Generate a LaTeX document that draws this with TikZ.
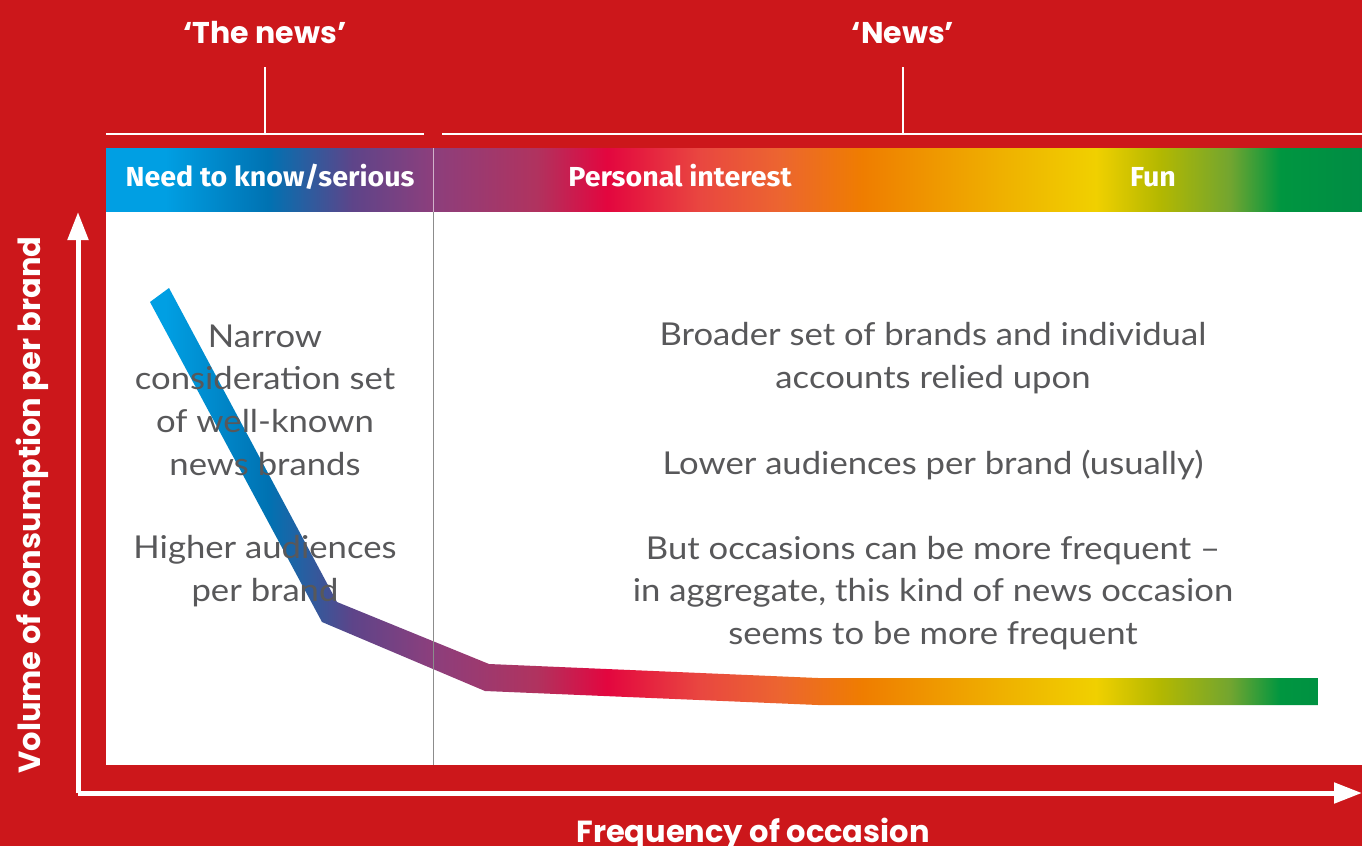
\documentclass[tikz,border=0pt]{standalone}
\usepackage{fontspec}
\setmainfont{Lato}[FakeStretch=1.1]
\newfontfamily\headfont{Fira Sans}[FakeStretch=1.04]
\newfontfamily\axisfont{Poppins}
\usetikzlibrary{arrows.meta}

\definecolor{newsred}{HTML}{CC171B}
\definecolor{bodygrey}{HTML}{58585A}
\definecolor{rulegrey}{HTML}{8C8C8C}
\definecolor{gA}{HTML}{009FE3}
\definecolor{gB}{HTML}{0072B2}
\definecolor{gC}{HTML}{5E4489}
\definecolor{gD}{HTML}{8B3F7D}
\definecolor{gE}{HTML}{B0335F}
\definecolor{gF}{HTML}{E3063F}
\definecolor{gG}{HTML}{E94740}
\definecolor{gH}{HTML}{EC6530}
\definecolor{gI}{HTML}{EF7D00}
\definecolor{gJ}{HTML}{EFB000}
\definecolor{gK}{HTML}{F0D000}
\definecolor{gL}{HTML}{B4B800}
\definecolor{gM}{HTML}{72A530}
\definecolor{gN}{HTML}{009640}
\definecolor{gO}{HTML}{008C44}

\pgfdeclarehorizontalshading{newsgrad}{100bp}{color(0bp)=(gA); color(25bp)=(gA);
  color(27.35bp)=(gA); color(31.45bp)=(gB); color(34.83bp)=(gC); color(37.9bp)=(gD);
  color(42.12bp)=(gE); color(44.94bp)=(gF); color(48.65bp)=(gG); color(51.83bp)=(gH);
  color(55.1bp)=(gI); color(60.59bp)=(gJ); color(64.41bp)=(gK); color(66.92bp)=(gL);
  color(69.75bp)=(gM); color(71.74bp)=(gN); color(75bp)=(gO); color(100bp)=(gO)}

\begin{document}
\begin{tikzpicture}[x=1pt, y=-1pt,
    bracket/.style = {draw=white, line width=2.5pt},
    axis/.style = {draw=white, line width=5pt, -{Triangle[length=28pt, width=20pt]}},
    head/.style = {text=white, font=\axisfont\bfseries\fontsize{30}{34}\selectfont, anchor=base},
    band/.style = {text=white, font=\headfont\bfseries\fontsize{27.5}{30}\selectfont, anchor=base},
    body/.style = {text=bodygrey, align=center, font=\fontsize{31.5}{42.7}\selectfont},
    axislabel/.style = {text=white, font=\axisfont\bfseries\fontsize{30.5}{34}\selectfont}]

    \useasboundingbox (0,0) rectangle (1362,846);
    \fill[newsred] (0,0) rectangle (1362,846);

    % band and panel
    \shade[shading=newsgrad] (106,148) rectangle (1362,212);
    \fill[white] (106,212) rectangle (1362,765);

    % consumption curve
    \begin{scope}
        \clip (150,302) -- (169,288) -- (337,602) -- (489,664) -- (818,678) -- (1318,678)
            -- (1318,705) -- (818,705) -- (485,691) -- (322,622) -- cycle;
        \shade[shading=newsgrad] (106,280) rectangle (1362,710);
    \end{scope}

    % divider
    \draw[white, opacity=0.6, line width=1pt] (433,148) -- (433,212);
    \draw[rulegrey, line width=1pt] (433,212) -- (433,765);

    % brackets
    \node[head] (thenews) at (265,43) {‘The news’};
    \node[head] (news) at (903,43) {‘News’};
    \coordinate (leftA) at (106,134);
    \coordinate (leftB) at (424,134);
    \coordinate (leftmid) at (265,134);
    \coordinate (rightA) at (442,134);
    \coordinate (rightB) at (1362,134);
    \coordinate (rightmid) at (903,134);
    \draw[bracket] (leftA) -- (leftB);
    \draw[bracket] (rightA) -- (rightB);
    \draw[bracket, line width=2pt] (leftmid) -- ++(0,-67);
    \draw[bracket, line width=2pt] (rightmid) -- ++(0,-67);

    % band labels
    \node[band] (serious) at (270,186) {Need to know/serious};
    \node[band] (personal) at (680,186) {Personal interest};
    \node[band] (fun) at (1153,186) {Fun};

    % texts
    \node[body] (narrow) at (265,400) {Narrow\\consideration set\\of well-known\\news brands};
    \node[body] (higher) at (265,571) {Higher audiences\\per brand};
    \node[body] (broader) at (933,358) {Broader set of brands and individual\\accounts relied upon};
    \node[body] (lower) at (933,465) {Lower audiences per brand (usually)};
    \node[body] (occasions) at (933,593) {But occasions can be more frequent –\\in aggregate, this kind of news occasion\\seems to be more frequent};

    % axes
    \coordinate (origin) at (78,793);
    \coordinate (ytop) at (78,212);
    \coordinate (xend) at (1362,793);
    \draw[axis] (origin) -- (ytop);
    \draw[axis] (origin) -- (xend);
    \node[axislabel, rotate=90] (volume) at (32,505) {Volume of consumption per brand};
    \node[axislabel, anchor=base] (frequency) at (753,842) {Frequency of occasion};

\end{tikzpicture}
\end{document}
